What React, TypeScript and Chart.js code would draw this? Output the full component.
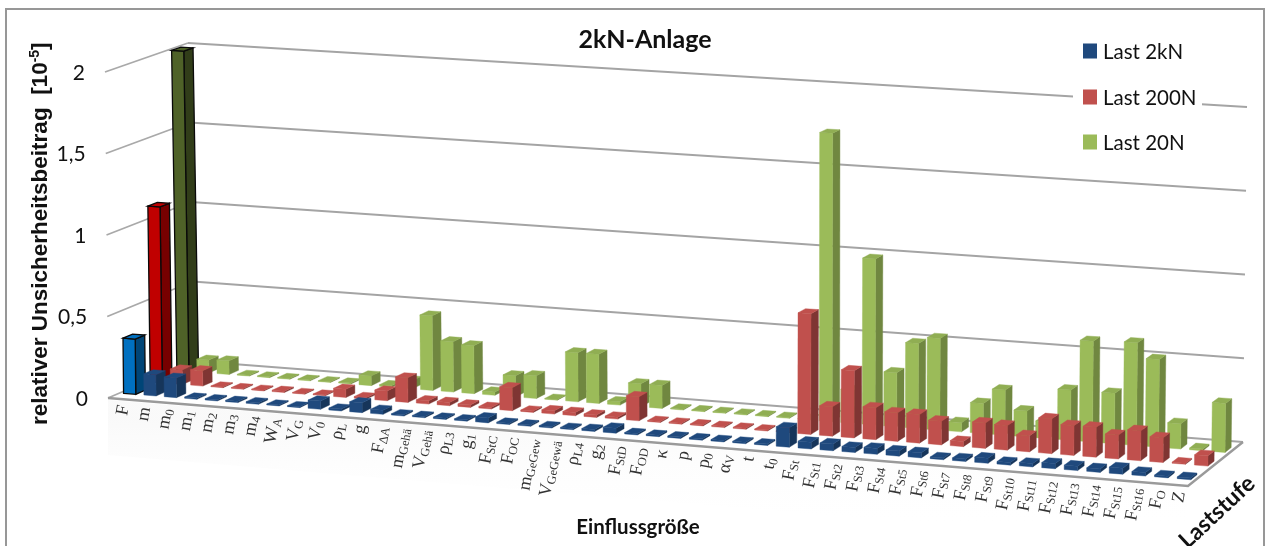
import React, { useEffect, useRef } from "react";
import { Chart, registerables } from "chart.js";

Chart.register(...registerables);

const labelBases = ["F","m","m","m","m","m","m","W","V","V","ρ","g","F","m","V","ρ","g","F","F","m","V","ρ","g","F","F","κ","p","p","α","t","t","F","F","F","F","F","F","F","F","F","F","F","F","F","F","F","F","F","F","Z"];
const labelSubs = ["","","0","1","2","3","4","A","G","0","L","","ΔA","Gehä","Gehä","L3","1","StC","OC","GeGew","GeGewä","L4","2","StD","OD","","","0","V","","0","St","St1","St2","St3","St4","St5","St6","St7","St8","St9","St10","St11","St12","St13","St14","St15","St16","O",""];
const categories = labelBases.map((b, i) => b + labelSubs[i]);

const last2kN = [0.34,0.13,0.12,0.008,0.008,0.008,0.01,0.006,0.006,0.05,0.012,0.06,0.025,0.008,0.008,0.008,0.008,0.03,0.008,0.008,0.008,0.008,0.012,0.03,0.008,0.008,0.008,0.008,0.008,0.008,0.008,0.115,0.04,0.04,0.03,0.035,0.03,0.03,0.01,0.015,0.03,0.015,0.02,0.03,0.025,0.02,0.035,0.02,0.01,0.01];
const last200N = [1.09,0.09,0.095,0.005,0.005,0.005,0.008,0.005,0.005,0.05,0.01,0.06,0.15,0.02,0.02,0.015,0.01,0.14,0.008,0.02,0.02,0.015,0.012,0.145,0.006,0.006,0.006,0.006,0.006,0.006,0.006,0.72,0.175,0.4,0.19,0.17,0.17,0.14,0.03,0.15,0.145,0.095,0.205,0.175,0.175,0.14,0.175,0.145,0.006,0.06];
const last20N = [2.0,0.08,0.085,0.005,0.005,0.005,0.005,0.005,0.006,0.06,0.01,0.05,0.46,0.31,0.295,0.02,0.13,0.14,0.005,0.3,0.3,0.02,0.14,0.14,0.005,0.005,0.005,0.005,0.005,0.005,0.005,1.74,0.2,1.0,0.325,0.51,0.55,0.055,0.18,0.27,0.155,0.1,0.3,0.6,0.3,0.61,0.52,0.15,0.01,0.29];

const seriesNames = ["Last 2kN", "Last 200N", "Last 20N"];
const seriesColors = ["#1F497D", "#C0504D", "#9BBB59"];
const firstBarColors = ["#0070C0", "#C00000", "#4F6228"];
const yTitle = "relativer Unsicherheitsbeitrag";

const rowDepth = [0.19, 0.5, 0.81];
const halfDepth = 0.056;
const P00 = [108, 398], P10 = [1188, 486], P01 = [194, 361], P11 = [1243, 442];

const bil = (a: number, b: number, c: number, d: number, u: number, w: number) =>
  a * (1 - u) * (1 - w) + b * u * (1 - w) + c * (1 - u) * w + d * u * w;

const project = (u: number, w: number, v: number): [number, number] => {
  const x = bil(P00[0], P10[0], P01[0], P11[0], u, w);
  const y = bil(P00[1], P10[1], P01[1], P11[1], u, w);
  const unit = bil(163, 175, 159, 167.5, u, w);
  const lean = bil(-1.5, 2, -3, 2, u, w);
  return [x + lean * v, y - unit * v];
};
const warp = (u: number, w: number) => u - (0.06 - 0.01 * w) * u * (1 - u);

const shade = (hex: string, f: number) => {
  const n = parseInt(hex.slice(1), 16);
  const c = [(n >> 16) & 255, (n >> 8) & 255, n & 255].map((x) => Math.min(255, Math.round(x * f)));
  return `rgb(${c[0]},${c[1]},${c[2]})`;
};

const poly = (ctx: CanvasRenderingContext2D, pts: [number, number][], fill: string, stroke?: string) => {
  ctx.beginPath();
  pts.forEach((p, i) => (i ? ctx.lineTo(p[0], p[1]) : ctx.moveTo(p[0], p[1])));
  ctx.closePath();
  ctx.fillStyle = fill;
  ctx.fill();
  if (stroke) {
    ctx.strokeStyle = stroke;
    ctx.lineWidth = 1.3;
    ctx.stroke();
  } else {
    ctx.strokeStyle = fill;
    ctx.lineWidth = 0.4;
    ctx.stroke();
  }
};

const line = (ctx: CanvasRenderingContext2D, a: number[], b: number[], color: string, width: number) => {
  ctx.beginPath();
  ctx.moveTo(a[0], a[1]);
  ctx.lineTo(b[0], b[1]);
  ctx.strokeStyle = color;
  ctx.lineWidth = width;
  ctx.stroke();
};

const scene3d = {
  id: "scene3d",
  beforeDraw(chart: any) {
    const ctx = chart.ctx;
    ctx.save();
    ctx.fillStyle = "#fff";
    ctx.fillRect(0, 0, chart.width, chart.height);
    ctx.strokeStyle = "#979797";
    ctx.lineWidth = 2;
    ctx.strokeRect(6, 9, 1258, 560);
    ctx.restore();
  },
  beforeDatasetsDraw(chart: any) {
    const ctx = chart.ctx;
    const y = chart.scales.y;
    ctx.save();
    const g = ctx.createLinearGradient(0, 420, 0, 530);
    g.addColorStop(0, "rgba(235,235,235,0.28)");
    g.addColorStop(1, "rgba(255,255,255,0)");
    ctx.fillStyle = g;
    ctx.beginPath();
    ctx.moveTo(108, 400);
    ctx.lineTo(1188, 488);
    ctx.lineTo(1185, 545);
    ctx.lineTo(108, 455);
    ctx.closePath();
    ctx.fill();
    for (const t of y.ticks) {
      const a = project(0, 0, t.value), b = project(0, 1, t.value), c = project(1, 1, t.value);
      line(ctx, a, b, "#a9a9a9", 1.8);
      line(ctx, b, c, "#a4a4a4", 1.8);
      ctx.fillStyle = "#111";
      ctx.font = "21px Lato";
      ctx.textAlign = "right";
      ctx.textBaseline = "middle";
      ctx.fillText(t.label, a[0] - 20, a[1] + 1);
    }
    ctx.beginPath();
    [P00, P10, P11].forEach((p, i) => (i ? ctx.lineTo(p[0], p[1]) : ctx.moveTo(p[0], p[1])));
    ctx.strokeStyle = "#9a9a9a";
    ctx.lineWidth = 2.4;
    ctx.stroke();
    ctx.restore();
  },
  beforeDatasetDraw(chart: any, args: any) {
    const ctx = chart.ctx;
    const { left, width } = chart.chartArea;
    const y = chart.scales.y;
    const ds = chart.data.datasets[args.index];
    const wc = rowDepth[args.index];
    ctx.save();
    args.meta.data.forEach((el: any, i: number) => {
      const v = y.getValueForPixel(el.y);
      const u0 = warp((el.x - el.width / 2 - left) / width, wc);
      const u1 = warp((el.x + el.width / 2 - left) / width, wc);
      const w0 = wc - halfDepth, w1 = wc + halfDepth;
      const base = ds.backgroundColor[i];
      const edge = i === 0 ? "#0a0a0a" : undefined;
      const side = shade(base, i === 0 ? 0.62 : args.index === 1 ? 0.66 : 0.72);
      const top = shade(base, args.index === 2 && i !== 0 ? 0.93 : 1.0);
      poly(ctx, [project(u1, w0, 0), project(u1, w1, 0), project(u1, w1, v), project(u1, w0, v)], side, edge);
      poly(ctx, [project(u0, w0, 0), project(u1, w0, 0), project(u1, w0, v), project(u0, w0, v)], base, edge);
      poly(ctx, [project(u0, w0, v), project(u1, w0, v), project(u1, w1, v), project(u0, w1, v)], top, edge);
    });
    ctx.restore();
    return false;
  },
  afterDatasetsDraw(chart: any) {
    const ctx = chart.ctx;
    ctx.save();
    const x = chart.scales.x;
    const { left, width } = chart.chartArea;
    ctx.textBaseline = "middle";
    x.ticks.forEach((_: any, i: number) => {
      const u = (x.getPixelForTick(i) - left) / width;
      const lx = 119 + 1080 * (u - 0.01) * 0.9979 + 5;
      const ly = 398 + 88 * u + 6.5;
      ctx.save();
      ctx.translate(lx, ly);
      ctx.rotate((-80 * Math.PI) / 180);
      ctx.fillStyle = "#333";
      ctx.textAlign = "left";
      ctx.font = "18px 'Liberation Serif'";
      const bw = ctx.measureText(labelBases[i]).width;
      ctx.font = "12.5px 'Liberation Serif'";
      const sw = ctx.measureText(labelSubs[i]).width;
      const total = bw + sw;
      ctx.font = "18px 'Liberation Serif'";
      ctx.fillText(labelBases[i], -total, 0);
      ctx.font = "12.5px 'Liberation Serif'";
      ctx.fillText(labelSubs[i], -total + bw, 4);
      ctx.restore();
    });
    ctx.fillStyle = "#fff";
    ctx.fillRect(1073, 30, 129, 132);
    const legendY = [51, 97, 142];
    seriesNames.forEach((name, i) => {
      ctx.fillStyle = seriesColors[i];
      ctx.fillRect(1083, legendY[i] - 7.5, 14, 15);
      ctx.fillStyle = "#111";
      ctx.font = "20.5px Lato";
      ctx.textAlign = "left";
      ctx.textBaseline = "middle";
      ctx.fillText(name, 1103, legendY[i] + 1);
    });
    ctx.fillStyle = "#111";
    ctx.textAlign = "center";
    ctx.textBaseline = "middle";
    ctx.font = "bold 25px Lato";
    ctx.fillText("2kN-Anlage", 645, 40);
    ctx.font = "bold 20.5px Lato";
    ctx.fillText("Einflussgröße", 638, 527);
    ctx.save();
    ctx.translate(1217, 512);
    ctx.rotate((-43 * Math.PI) / 180);
    ctx.font = "bold 23px Lato";
    ctx.fillText("Laststufe", 0, 0);
    ctx.restore();
    ctx.save();
    ctx.translate(41, 425);
    ctx.rotate(-Math.PI / 2);
    ctx.textAlign = "left";
    ctx.fillStyle = "#111";
    ctx.font = "bold 22.5px 'Liberation Sans'";
    let px = 0;
    const seg1 = yTitle + "  [10";
    ctx.fillText(seg1, px, 0);
    px += ctx.measureText(seg1).width;
    ctx.font = "bold 14px 'Liberation Sans'";
    ctx.fillText("-5", px, -6);
    px += ctx.measureText("-5").width;
    ctx.font = "bold 22.5px 'Liberation Sans'";
    ctx.fillText("]", px, 0);
    ctx.restore();
    ctx.restore();
  },
};

const withFirst = (i: number) => last2kN.map((_, k) => (k === 0 ? firstBarColors[i] : seriesColors[i]));

export default function App() {
  const ref = useRef<HTMLCanvasElement>(null);
  useEffect(() => {
    const chart = new Chart(ref.current!, {
      type: "bar",
      data: {
        labels: categories,
        datasets: [
          { label: seriesNames[0], data: last2kN, backgroundColor: withFirst(0), grouped: false, barPercentage: 0.6, categoryPercentage: 1 },
          { label: seriesNames[1], data: last200N, backgroundColor: withFirst(1), grouped: false, barPercentage: 0.6, categoryPercentage: 1 },
          { label: seriesNames[2], data: last20N, backgroundColor: withFirst(2), grouped: false, barPercentage: 0.6, categoryPercentage: 1 },
        ],
      } as any,
      options: {
        animation: false,
        responsive: false,
        layout: { padding: 0 },
        plugins: { legend: { display: false }, title: { display: false }, tooltip: { enabled: false } },
        scales: {
          x: { display: false, ticks: { autoSkip: false } },
          y: {
            display: false,
            min: 0,
            max: 2,
            ticks: { stepSize: 0.5, callback: (v: any) => String(v).replace(".", ",") },
          },
        },
      } as any,
      plugins: [scene3d as any],
    });
    return () => chart.destroy();
  }, []);
  return <canvas ref={ref} width={1272} height={546} style={{ position: "absolute", left: 0, top: 0, display: "block" }} />;
}
